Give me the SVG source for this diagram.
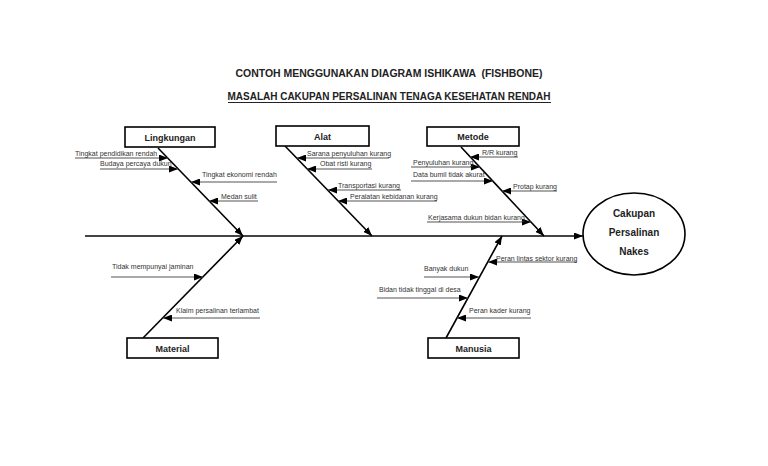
<svg xmlns="http://www.w3.org/2000/svg" width="768" height="466" viewBox="0 0 768 466">
<style>
.t{font-family:"Liberation Sans",Arial,sans-serif;fill:#222}
.title{font-size:10.5px;font-weight:bold;text-anchor:middle;white-space:pre}
.box{fill:#fff;stroke:#000;stroke-width:1.6}
.bl{font-size:9px;font-weight:bold;text-anchor:middle}
.c{font-size:7px;fill:#333}
.bone{stroke:#000;stroke-width:1.6;fill:none}
.cause{stroke:#555;stroke-width:1.2;fill:none}
.spine{stroke:#444;stroke-width:2;fill:none}
</style>
<defs>
<marker id="ah" markerUnits="userSpaceOnUse" markerWidth="9" markerHeight="7" refX="9" refY="3.5" orient="auto">
<path d="M0,0 L9,3.5 L0,7 z" fill="#000"/>
</marker>
</defs>
<rect width="768" height="466" fill="#fff"/>
<g id="title">
<text class="t title" x="389" y="77" textLength="307" lengthAdjust="spacingAndGlyphs" xml:space="preserve">CONTOH MENGGUNAKAN DIAGRAM ISHIKAWA  (FISHBONE)</text>
<text class="t title" x="389" y="100" textLength="323" lengthAdjust="spacingAndGlyphs">MASALAH CAKUPAN PERSALINAN TENAGA KESEHATAN RENDAH</text>
<line x1="228" y1="102.5" x2="551" y2="102.5" stroke="#222" stroke-width="1"/>
</g>
<g id="connectors">
<line class="spine" x1="85" y1="236" x2="583" y2="236" marker-end="url(#ah)"/>
<line class="bone" x1="158" y1="148" x2="243" y2="236" marker-end="url(#ah)"/>
<line class="bone" x1="285" y1="146" x2="372" y2="236" marker-end="url(#ah)"/>
<line class="bone" x1="461" y1="147" x2="544" y2="236" marker-end="url(#ah)"/>
<line class="bone" x1="143" y1="338" x2="243" y2="236" marker-end="url(#ah)"/>
<line class="bone" x1="446" y1="338" x2="502" y2="236" marker-end="url(#ah)"/>
<!-- Lingkungan causes -->
<line class="cause" x1="75" y1="158" x2="168" y2="158" marker-end="url(#ah)"/>
<line class="cause" x1="100" y1="169" x2="178" y2="169" marker-end="url(#ah)"/>
<line class="cause" x1="277" y1="182" x2="191" y2="182" marker-end="url(#ah)"/>
<line class="cause" x1="258" y1="201" x2="209" y2="201" marker-end="url(#ah)"/>
<!-- Alat causes -->
<line class="cause" x1="389" y1="158" x2="297" y2="158" marker-end="url(#ah)"/>
<line class="cause" x1="372" y1="169" x2="307" y2="169" marker-end="url(#ah)"/>
<line class="cause" x1="401" y1="190" x2="328" y2="190" marker-end="url(#ah)"/>
<line class="cause" x1="437" y1="201" x2="338" y2="201" marker-end="url(#ah)"/>
<!-- Metode causes -->
<line class="cause" x1="518" y1="157" x2="470" y2="157" marker-end="url(#ah)"/>
<line class="cause" x1="411" y1="167" x2="480" y2="167" marker-end="url(#ah)"/>
<line class="cause" x1="411" y1="181" x2="493" y2="181" marker-end="url(#ah)"/>
<line class="cause" x1="557" y1="191" x2="502" y2="191" marker-end="url(#ah)"/>
<line class="cause" x1="427" y1="222" x2="531" y2="222" marker-end="url(#ah)"/>
<!-- Material causes -->
<line class="cause" x1="111" y1="277" x2="203" y2="277" marker-end="url(#ah)"/>
<line class="cause" x1="260" y1="318" x2="163" y2="318" marker-end="url(#ah)"/>
<!-- Manusia causes -->
<line class="cause" x1="577" y1="262" x2="488" y2="262" marker-end="url(#ah)"/>
<line class="cause" x1="424" y1="277" x2="479" y2="277" marker-end="url(#ah)"/>
<line class="cause" x1="377" y1="298" x2="468" y2="298" marker-end="url(#ah)"/>
<line class="cause" x1="531" y1="318" x2="457" y2="318" marker-end="url(#ah)"/>
</g>
<g id="lingkungan">
<rect class="box" x="125" y="127" width="90" height="20"/>
<text class="t bl" x="170" y="140.5">Lingkungan</text>
<text class="t c" x="75" y="155.5">Tingkat pendidikan rendah</text>
<text class="t c" x="100" y="166">Budaya percaya dukun</text>
<text class="t c" x="202" y="177">Tingkat ekonomi rendah</text>
<text class="t c" x="221" y="199">Medan sulit</text>
</g>
<g id="alat">
<rect class="box" x="276" y="126" width="93" height="20"/>
<text class="t bl" x="322.5" y="139.5">Alat</text>
<text class="t c" x="307" y="155.5">Sarana penyuluhan kurang</text>
<text class="t c" x="320" y="166">Obat risti kurang</text>
<text class="t c" x="338" y="188">Transportasi kurang</text>
<text class="t c" x="350" y="199">Peralatan kebidanan kurang</text>
</g>
<g id="metode">
<rect class="box" x="427" y="127" width="92" height="19"/>
<text class="t bl" x="473" y="140">Metode</text>
<text class="t c" x="482" y="155">R/R kurang</text>
<text class="t c" x="413" y="165">Penyuluhan kurang</text>
<text class="t c" x="413" y="176.5">Data bumil tidak akurat</text>
<text class="t c" x="513" y="188.5">Protap kurang</text>
<text class="t c" x="428" y="220">Kerjasama dukun bidan kurang</text>
</g>
<g id="material">
<rect class="box" x="127" y="338" width="91" height="20"/>
<text class="t bl" x="172.5" y="351.5">Material</text>
<text class="t c" x="112" y="268.5">Tidak mempunyai jaminan</text>
<text class="t c" x="176" y="312.5">Klaim persalinan terlambat</text>
</g>
<g id="manusia">
<rect class="box" x="428" y="338" width="91" height="20"/>
<text class="t bl" x="473.5" y="351.5">Manusia</text>
<text class="t c" x="496" y="260.5">Peran lintas sektor kurang</text>
<text class="t c" x="424" y="270.5">Banyak dukun</text>
<text class="t c" x="379" y="291.5">Bidan tidak tinggal di desa</text>
<text class="t c" x="469" y="312.5">Peran kader kurang</text>
</g>
<g id="effect">
<ellipse cx="634" cy="234" rx="51" ry="41" fill="#fff" stroke="#000" stroke-width="1.6"/>
<text class="t bl" x="634" y="217" style="font-size:10px">Cakupan</text>
<text class="t bl" x="634" y="236" style="font-size:10px">Persalinan</text>
<text class="t bl" x="634" y="255" style="font-size:10px">Nakes</text>
</g>
</svg>
